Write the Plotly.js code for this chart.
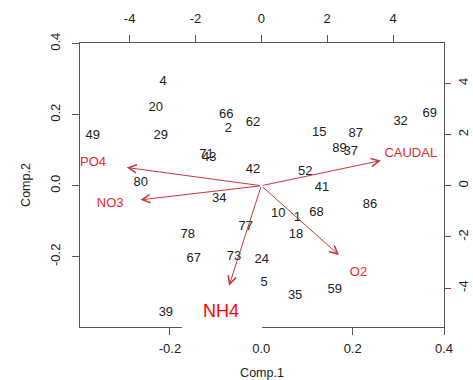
<!DOCTYPE html>
<html><head><meta charset="utf-8">
<script src="https://cdn.plot.ly/plotly-3.0.1.min.js"></script>
<style>html,body{margin:0;padding:0;background:#fff}</style>
</head><body>
<div id="chart" style="width:473px;height:380px"></div>
<script>
// observation scores (Comp.1, Comp.2)
const obsLabels = ['4','20','49','29','66','2','62','71','43','42','80','34','69','32','15','87','89','37','52','41','86','10','1','68','18','77','78','67','73','24','5','35','59','39'];
const comp1 = [-0.215,-0.231,-0.369,-0.220,-0.077,-0.072,-0.018,-0.120,-0.114,-0.018,-0.264,-0.092,0.369,0.305,0.127,0.207,0.171,0.196,0.096,0.133,0.238,0.037,0.079,0.121,0.076,-0.034,-0.161,-0.148,-0.060,0.001,0.006,0.074,0.161,-0.209];
const comp2 = [0.294,0.221,0.141,0.141,0.199,0.160,0.177,0.087,0.080,0.045,0.009,-0.036,0.202,0.181,0.149,0.146,0.105,0.096,0.040,-0.005,-0.054,-0.080,-0.089,-0.075,-0.138,-0.115,-0.138,-0.205,-0.199,-0.209,-0.272,-0.310,-0.294,-0.359];

// variable loadings (secondary scale)
const varNames = ['PO4','NO3','CAUDAL','O2'];
const varComp1 = [-5.11,-4.59,4.54,2.95];
const varComp2 = [0.89,-0.69,1.23,-3.39];
const bigVarName = 'NH4';
const bigVarComp1 = -1.225;
const bigVarComp2 = -4.89;
const arrowScale = 0.8;

const primaryTicks = [-0.4,-0.2,0.0,0.2,0.4];
const primaryTickText = ['-0.4','-0.2','0.0','0.2','0.4'];
const secondaryTicks = [-4,-2,0,2,4];
const secondaryTickText = ['-4','-2','0','2','4'];

const FONT = 'Liberation Sans, Arial, sans-serif';
const LABRED = 'rgb(228,40,48)';
const ARRRED = 'rgb(200,55,60)';

const traces = [
  {type:'scatter', mode:'text', x:comp1, y:comp2, text:obsLabels,
   textposition:'middle center', cliponaxis:false, hoverinfo:'none',
   textfont:{family:FONT, size:13, color:'#222'}, xaxis:'x', yaxis:'y', showlegend:false},
  {type:'scatter', mode:'text', x:varComp1, y:varComp2, text:varNames,
   textposition:'middle center', cliponaxis:false, hoverinfo:'none',
   textfont:{family:FONT, size:13, color:LABRED}, xaxis:'x2', yaxis:'y2', showlegend:false}
];

const allC1 = varComp1.concat([bigVarComp1]);
const allC2 = varComp2.concat([bigVarComp2]);
const annotations = allC1.map((v,i)=>({
  xref:'x2', yref:'y2', axref:'x2', ayref:'y2',
  x: v*arrowScale, y: allC2[i]*arrowScale, ax:0, ay:0,
  text:'', showarrow:true, arrowhead:5, arrowsize:1.6, arrowwidth:1, arrowcolor:ARRRED
}));
annotations.push({xref:'x2', yref:'y2', x:bigVarComp1, y:bigVarComp2, text:bigVarName,
  showarrow:false, font:{family:FONT, size:18, color:'#ff0000'}});

const axisCommon = {showgrid:false, zeroline:false, ticks:'outside', ticklen:7,
  tickfont:{family:FONT, size:13, color:'#222'}, fixedrange:true};

const layout = {
  width:473, height:380,
  margin:{l:80, r:29, t:43, b:53, pad:0},
  paper_bgcolor:'#fff', plot_bgcolor:'#fff',
  font:{family:FONT, color:'#222'},
  xaxis: Object.assign({}, axisCommon, {range:[-0.397,0.4], tickvals:primaryTicks, ticktext:primaryTickText,
    showline:true, mirror:true, linecolor:'#555', linewidth:1, tickcolor:'#555', ticklabelstandoff:2,
    title:{text:'Comp.1', font:{family:FONT, size:12.5, color:'#222'}, standoff:13}}),
  yaxis: Object.assign({}, axisCommon, {range:[-0.398,0.402], tickvals:primaryTicks, ticktext:primaryTickText,
    showline:true, mirror:true, linecolor:'#555', linewidth:1, tickcolor:'#555', tickangle:-90, ticklabelstandoff:7,
    title:{text:'Comp.2', font:{family:FONT, size:12.5, color:'#222'}, standoff:14}}),
  xaxis2: Object.assign({}, axisCommon, {range:[-5.506,5.548], overlaying:'x', side:'top', anchor:'y',
    tickvals:secondaryTicks, ticktext:secondaryTickText, showline:false, tickcolor:'#d02030', ticklabelstandoff:7}),
  yaxis2: Object.assign({}, axisCommon, {range:[-5.52,5.576], overlaying:'y', side:'right', anchor:'x',
    tickvals:secondaryTicks, ticktext:secondaryTickText, showline:false, tickcolor:'#d02030', tickangle:-90,
    ticklen:6, ticklabelstandoff:1}),
  shapes:[{type:'rect', xref:'paper', yref:'paper', x0:(182-80)/364, x1:(262-80)/364,
    y0:(327-337)/284, y1:(327-294)/284, fillcolor:'#fff', line:{width:0}, layer:'above'}],
  annotations: annotations,
  showlegend:false
};

Plotly.newPlot('chart', traces, layout, {staticPlot:true, displayModeBar:false});
</script>
</body></html>
